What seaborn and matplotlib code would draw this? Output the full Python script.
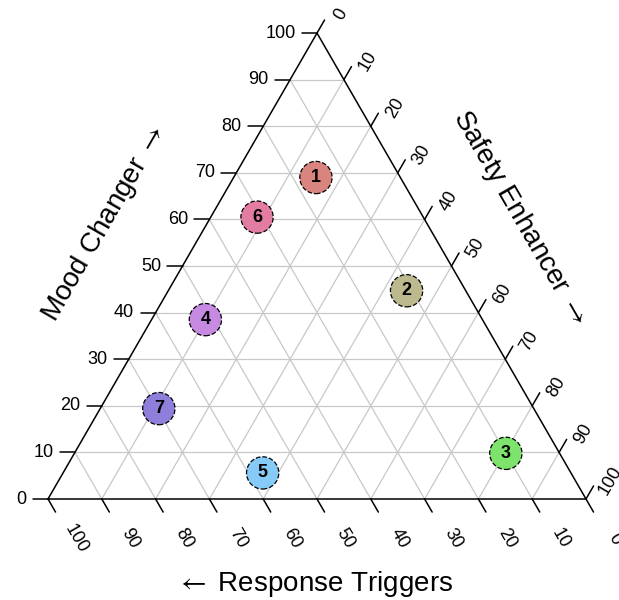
import numpy as np
import pandas as pd
import seaborn as sns
import matplotlib.pyplot as plt

# point values (percent)
labels = ['1', '2', '3', '4', '5', '6', '7']
response = [15.7, 11.0, 10.0, 51.5, 57.3, 30.9, 69.7]
mood = [69.0, 44.7, 9.8, 38.5, 5.6, 60.5, 19.4]
safety = [15.3, 44.3, 80.2, 10.0, 37.1, 8.6, 10.9]
colors = ['#D9847F', '#BDB98F', '#7DE36D', '#C68AE2', '#86CBF7', '#E27CA2', '#8F7FDA']
ticks = [0, 10, 20, 30, 40, 50, 60, 70, 80, 90, 100]

sns.set_style("white")
plt.rcParams['font.family'] = ['Liberation Sans', 'DejaVu Sans']
plt.rcParams['text.color'] = 'black'
plt.rcParams['mathtext.fontset'] = 'stixsans'

h = np.sqrt(3) / 2
df = pd.DataFrame({'label': labels, 'R': response, 'M': mood, 'S': safety})
df['x'] = df['S'] + df['M'] / 2
df['y'] = df['M'] * h

fig = plt.figure(figsize=(6.19, 6.0), dpi=100)
ax = fig.add_axes([0, 0, 1, 1])
px = 5.38  # pixels per unit
ax.set_xlim(-48 / px, (619 - 48) / px)
ax.set_ylim(-101 / px, (600 - 101) / px)
ax.axis('off')

# grid
gc = '#c8c8c8'
for v in ticks[1:-1]:
    ax.plot([v / 2, 100 - v / 2], [v * h, v * h], color=gc, lw=0.9, zorder=1)
    ax.plot([v, v + (100 - v) / 2], [0, (100 - v) * h], color=gc, lw=0.9, zorder=1)
    ax.plot([100 - v, (100 - v) / 2], [0, (100 - v) * h], color=gc, lw=0.9, zorder=1)

# triangle
ax.plot([0, 100, 50, 0], [0, 0, 100 * h, 0], color='black', lw=1.1, zorder=2)

tl = 2.8
fs = 13
for v in ticks:
    # left axis: Mood Changer
    x0, y0 = v / 2, v * h
    ax.plot([x0, x0 - tl], [y0, y0], color='black', lw=1.1)
    ax.text(x0 - 4.0, y0, str(v), ha='right', va='center', fontsize=fs)
    # right axis: Safety Enhancer
    x0, y0 = 50 + v / 2, (100 - v) * h
    ax.plot([x0, x0 + 0.5 * tl], [y0, y0 + h * tl], color='black', lw=1.1)
    ax.text(x0 + 4.5, y0 + 3.4, str(v), ha='center', va='center', fontsize=fs, rotation=60)
    # bottom axis: Response Triggers
    x0, y0 = 100 - v, 0
    ax.plot([x0, x0 + 0.5 * tl], [y0, y0 - h * tl], color='black', lw=1.1)
    ax.text(x0 + 5.3, y0 - 7.4, str(v), ha='center', va='center', fontsize=fs, rotation=-60)

# axis titles
ax.text((104 - 48) / px, (600 - 224 - 101) / px, 'Mood Changer $\\rightarrow$', fontsize=20,
        rotation=60, ha='center', va='center')
ax.text((520 - 48) / px, (600 - 218 - 101) / px, 'Safety Enhancer $\\rightarrow$', fontsize=20,
        rotation=-60, ha='center', va='center')
ax.text((315 - 48) / px, (600 - 584 - 101) / px, '$\\leftarrow$ Response Triggers', fontsize=20,
        ha='center', va='center')

# points
sns.scatterplot(data=df, x='x', y='y', hue='label', palette=colors, s=540,
                edgecolor='black', linewidth=0.9, linestyle='--', legend=False,
                ax=ax, zorder=3)
for _, r in df.iterrows():
    ax.text(r['x'], r['y'], r['label'], ha='center', va='center', fontsize=13,
            fontweight='bold', zorder=4)

ax.set_xlabel('')
ax.set_ylabel('')
fig.savefig('out.png', dpi=100)
